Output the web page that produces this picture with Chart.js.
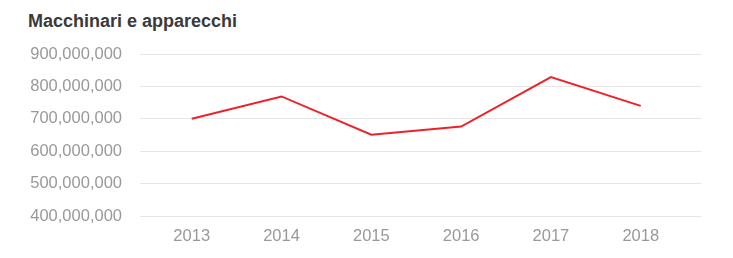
<!DOCTYPE html>
<html>
<head>
<meta charset="utf-8">
<script src="https://cdn.jsdelivr.net/npm/chart.js@4"></script>
<style>
html,body{margin:0;padding:0;background:#fff;}
#wrap{position:relative;width:733px;height:258px;}
#title{position:absolute;left:28px;top:12px;font-family:"Liberation Sans",Arial,Helvetica,sans-serif;font-weight:bold;font-size:18px;line-height:18px;color:#3a3a3a;white-space:nowrap;}
canvas{position:absolute;left:0;top:0;}
</style>
</head>
<body>
<div id="wrap">
<div id="title">Macchinari e apparecchi</div>
<canvas id="c" width="733" height="258"></canvas>
</div>
<script>
const categories = ['2013','2014','2015','2016','2017','2018'];
const values = [700000000, 769000000, 651000000, 676000000, 829000000, 740000000];
const yTicks = [400000000, 500000000, 600000000, 700000000, 800000000, 900000000];

const font = {family:'"Liberation Sans", Arial, Helvetica, sans-serif', size:16.5};
new Chart(document.getElementById('c'), {
  type:'line',
  data:{
    datasets:[{
      data: values.map((v,i)=>({x:i,y:v})),
      borderColor:'#ec2228',
      borderWidth:2,
      pointRadius:0,
      tension:0,
      fill:false
    }]
  },
  options:{
    responsive:false,
    animation:false,
    layout:{padding:{top:54,right:32,bottom:0,left:0}},
    plugins:{legend:{display:false},tooltip:{enabled:false},title:{display:false}},
    scales:{
      x:{
        type:'linear',
        min:-0.576,
        max:5.671,
        afterBuildTicks:(s)=>{s.ticks = categories.map((c,i)=>({value:i}));},
        afterFit:(s)=>{s.height = 42;},
        ticks:{callback:(v)=>categories[v], color:'#999999', font:font, padding:11, maxRotation:0, autoSkip:false},
        grid:{display:false, drawTicks:false},
        border:{display:false}
      },
      y:{
        min:yTicks[0],
        max:yTicks[yTicks.length-1],
        afterBuildTicks:(s)=>{s.ticks = yTicks.map(v=>({value:v}));},
        afterFit:(s)=>{s.width = 140;},
        ticks:{callback:(v)=>v.toLocaleString('en-US'), color:'#999999', font:font, padding:18},
        grid:{color:'#e6e6e6', lineWidth:1, drawTicks:false},
        border:{display:false}
      }
    }
  }
});
</script>
</body>
</html>
